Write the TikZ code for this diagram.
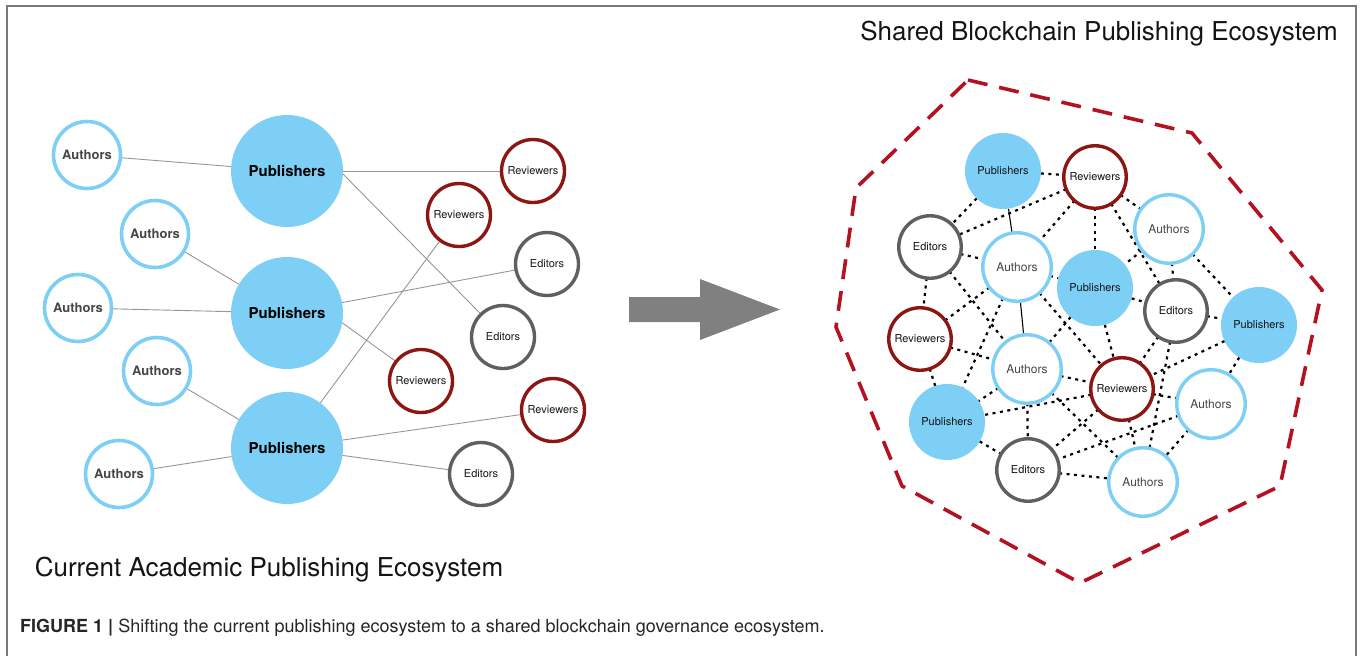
\documentclass[tikz,border=0pt]{standalone}
\usepackage{fontspec}
\setmainfont{TeX Gyre Heros}
\usetikzlibrary{backgrounds}
\definecolor{pubblue}{RGB}{125,207,246}
\definecolor{revred}{RGB}{140,22,18}
\definecolor{edgray}{RGB}{95,95,95}
\definecolor{hullred}{RGB}{180,18,32}
\definecolor{linkgray}{RGB}{150,150,150}
\definecolor{arrowgray}{RGB}{128,128,128}
\definecolor{framegray}{RGB}{120,120,120}
\definecolor{authtext}{RGB}{70,70,70}
\begin{document}
\begin{tikzpicture}[x=1pt,y=-1pt,
  ball/.style={circle, inner sep=0pt, outer sep=0pt, align=center},
  % current ecosystem (left)
  lauthor/.style={ball, draw=pubblue, line width=3.6pt, fill=white, minimum size=67pt,
    font=\fontsize{13}{15}\selectfont\bfseries, text=authtext},
  lpub/.style={ball, fill=pubblue, minimum size=112pt,
    font=\fontsize{15}{17}\selectfont\bfseries, text=black},
  lrev/.style={ball, draw=revred, line width=3.4pt, fill=white, minimum size=63pt,
    font=\fontsize{11}{13}\selectfont, text=black!90},
  led/.style={ball, draw=edgray, line width=3.4pt, fill=white, minimum size=63pt,
    font=\fontsize{11}{13}\selectfont, text=black!90},
  link/.style={draw=linkgray, line width=0.9pt},
  % shared ecosystem (right)
  rauthor/.style={ball, draw=pubblue, line width=3.4pt, fill=white, minimum size=68.5pt,
    font=\fontsize{12}{14}\selectfont, text=authtext},
  rpub/.style={ball, fill=pubblue, minimum size=76pt,
    font=\fontsize{11}{13}\selectfont, text=black!92},
  rrev/.style={ball, draw=revred, line width=3.4pt, fill=white, minimum size=62.5pt,
    font=\fontsize{11}{13}\selectfont, text=black!92},
  red/.style={ball, draw=edgray, line width=3.4pt, fill=white, minimum size=62.5pt,
    font=\fontsize{11}{13}\selectfont, text=black!92},
  dotlink/.style={draw=black, line width=2.2pt, dash pattern=on 3pt off 4.5pt},
  solidlink/.style={draw=black, line width=1.1pt},
  heading/.style={inner sep=0pt, font=\fontsize{26}{30}\selectfont, text=black!92},
]
\useasboundingbox (0,0) rectangle (1363,656);

% open frame
\draw[framegray, line width=2pt] (7,656) -- (7,6) -- (1356,6) -- (1356,656);

% ---------- current academic publishing ecosystem ----------
\node[lauthor] (A1) at (87,155) {Authors};
\node[lpub]    (P1) at (287,171) {Publishers};
\node[lauthor] (A2) at (155,234) {Authors};
\node[lauthor] (A3) at (78,308) {Authors};
\node[lpub]    (P2) at (287,313) {Publishers};
\node[lauthor] (A4) at (157,371) {Authors};
\node[lauthor] (A5) at (119,474) {Authors};
\node[lpub]    (P3) at (287,448) {Publishers};
\node[lrev]    (R1) at (533,171) {Reviewers};
\node[lrev]    (R2) at (459,215) {Reviewers};
\node[led]     (E1) at (547,264) {Editors};
\node[led]     (E2) at (503,337) {Editors};
\node[lrev]    (R3) at (421,381) {Reviewers};
\node[lrev]    (R4) at (553,410) {Reviewers};
\node[led]     (E3) at (481,474) {Editors};

\begin{pgfonlayer}{background}
  \foreach \a/\b in {A1/P1, A2/P2, A3/P2, A4/P3, A5/P3,
                     P1/R1, P2/E1, P3/R2, P3/R4, P3/E3}
    \draw[link] (\a) -- (\b);
  \draw[link] (P1.-3) -- (E2.134);
  \draw[link] (P2.-10) -- (R3.142);
\end{pgfonlayer}

\node[heading] (curtitle) at (269,570) {Current Academic Publishing Ecosystem};

% ---------- transition arrow ----------
\fill[arrowgray] (629,297) -- (700,297) -- (700,279) -- (780,309.5)
  -- (700,340) -- (700,322) -- (629,322) -- cycle;

% ---------- shared blockchain publishing ecosystem ----------
\node[heading] (sharedtitle) at (1099,34) {Shared Blockchain Publishing Ecosystem};

\draw[hullred, line width=3.6pt, dash pattern=on 20pt off 12pt]
  (968,80) -- (1192,133) -- (1322,290) -- (1280,486) -- (1080,583)
  -- (902,486) -- (836,327) -- (856,188) -- cycle;

\node[rpub]    (PubT)  at (1003,171) {Publishers};
\node[rrev]    (RevT)  at (1095,177) {Reviewers};
\node[red]     (EdL)   at (930,247)  {Editors};
\node[rauthor] (AuC)   at (1017,267) {Authors};
\node[rauthor] (AuTR)  at (1169,229) {Authors};
\node[rpub]    (PubM)  at (1095,288) {Publishers};
\node[red]     (EdM)   at (1176,311) {Editors};
\node[rpub]    (PubR)  at (1259,325) {Publishers};
\node[rrev]    (RevL)  at (920,339)  {Reviewers};
\node[rauthor] (AuM)   at (1027,369) {Authors};
\node[rrev]    (RevM)  at (1122,389) {Reviewers};
\node[rpub]    (PubBL) at (947,422)  {Publishers};
\node[rauthor] (AuR)   at (1211,404) {Authors};
\node[red]     (EdB)   at (1028,470) {Editors};
\node[rauthor] (AuB)   at (1143,482) {Authors};

\begin{pgfonlayer}{background}
  \foreach \a/\b in {PubT/RevT, PubT/EdL, RevT/EdL, RevT/AuC, RevT/PubM,
      RevT/EdM, RevT/AuTR, AuTR/EdM, AuTR/PubR, AuTR/PubM,
      EdL/AuC, EdL/RevL, EdL/AuM, AuC/RevL, AuC/PubBL, AuC/PubM, AuC/RevM,
      PubM/EdM, PubM/RevM, PubM/AuM, EdM/RevM, EdM/PubR, EdM/AuB,
      PubR/RevM, PubR/AuR, RevL/AuM, RevL/PubBL, AuM/PubBL, AuM/RevM,
      AuM/EdB, AuM/AuB, RevM/PubBL, RevM/EdB, RevM/AuB, RevM/AuR,
      AuR/EdB, AuR/AuB, PubBL/EdB, EdB/AuB}
    \draw[dotlink] (\a) -- (\b);
  \draw[solidlink] (PubT) -- (AuC);
  \draw[solidlink] (AuC) -- (AuM);
\end{pgfonlayer}

% ---------- caption ----------
\node[inner sep=0pt, anchor=base west, font=\fontsize{18}{22}\selectfont, text=black!85]
  (caption) at (20,632)
  {\textbf{FIGURE 1 |} Shifting the current publishing ecosystem to a shared blockchain governance ecosystem.};
\end{tikzpicture}
\end{document}
